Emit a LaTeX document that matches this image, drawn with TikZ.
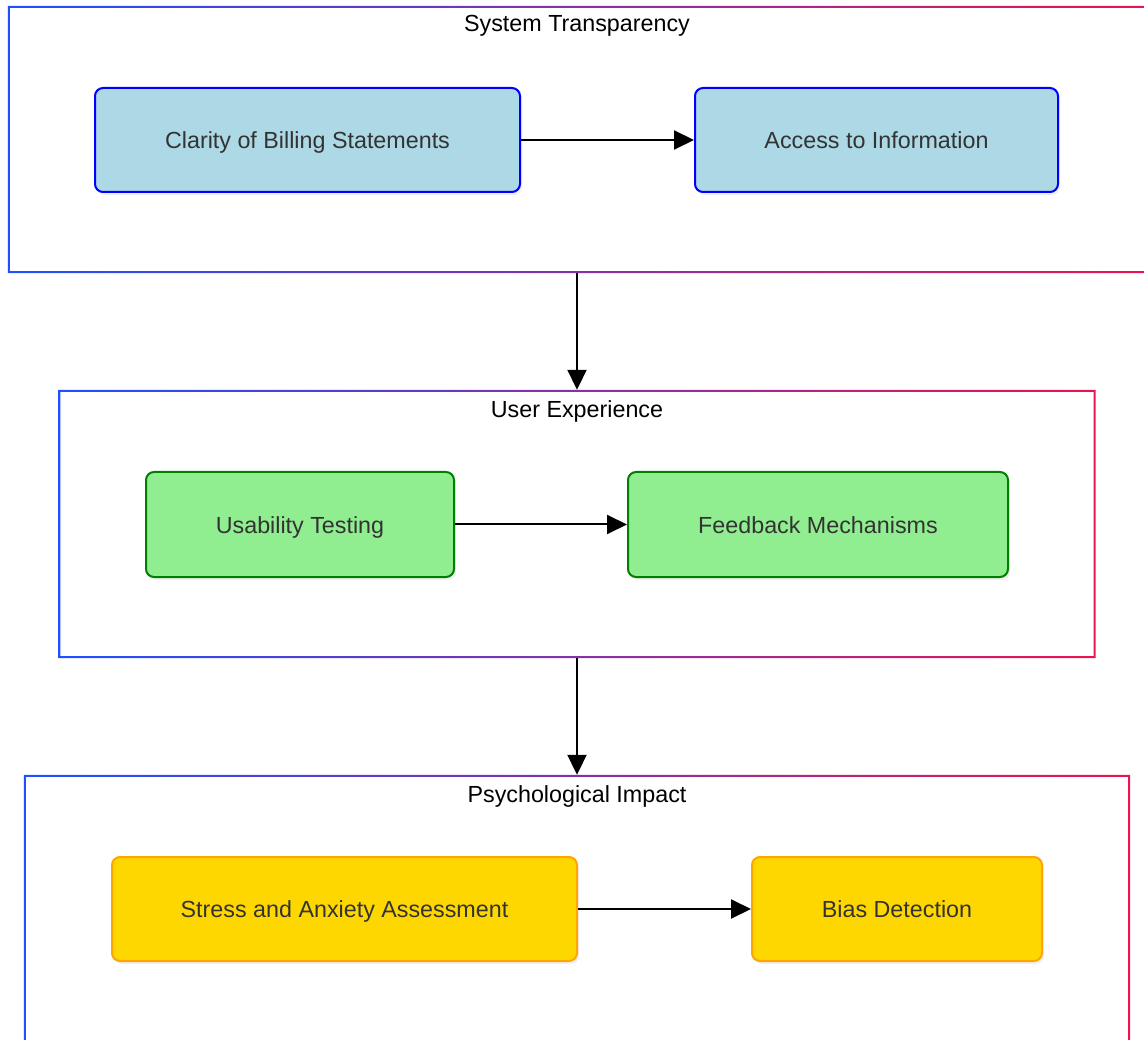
\documentclass[tikz,border=0pt]{standalone}
\usepackage{fontspec}
\setmainfont{Liberation Sans}
\usetikzlibrary{arrows.meta,shadows}
\definecolor{clleft}{RGB}{30,80,255}
\definecolor{clright}{RGB}{235,20,80}
\definecolor{txtgrey}{RGB}{51,51,51}
\definecolor{bluefill}{RGB}{173,216,230}
\definecolor{greenfill}{RGB}{144,238,144}
\definecolor{goldfill}{RGB}{255,215,0}
\definecolor{orangeline}{RGB}{255,165,0}
\begin{document}
\begin{tikzpicture}[x = 1pt, y = -1pt,
		box/.style = {rounded corners = 8pt, line width = 2pt, text = txtgrey,
			font = \fontsize{23.3}{28}\selectfont, text height = 19pt, text depth = 2pt,
			drop shadow = {opacity = .12, shadow xshift = 2pt, shadow yshift = -3pt}},
		bluebox/.style = {box, draw = blue, fill = bluefill},
		greenbox/.style = {box, draw = green!50!black, fill = greenfill},
		goldbox/.style = {box, draw = orangeline, fill = goldfill},
		clbox/.style = {inner sep = 0pt},
		cltitle/.style = {font = \fontsize{23.3}{28}\selectfont, anchor = north},
		arr/.style = {line width = 2pt, -{Triangle[length = 20pt, width = 19pt]}}]
	\useasboundingbox (0,0) rectangle (1144,1040);
	% clusters
	\node[clbox, minimum width = 1138pt, minimum height = 267pt] (sys) at (577,139.5) {};
	\node[clbox, minimum width = 1037pt, minimum height = 268pt] (ux) at (577,524) {};
	\node[clbox, minimum width = 1106pt, minimum height = 280pt] (psy) at (577,915) {};
	\foreach \cl in {sys, ux, psy}
		\shade[left color = clleft, right color = clright, even odd rule]
			(\cl.north west) rectangle (\cl.south east)
			([shift = {(2,2)}]\cl.north west) rectangle ([shift = {(-2,-2)}]\cl.south east);
	\node[cltitle] (systitle) at (577,12) {System Transparency};
	\node[cltitle] (uxtitle) at (577,397) {User Experience};
	\node[cltitle] (psytitle) at (577,782) {Psychological Impact};
	% nodes
	\node[bluebox, minimum width = 425pt, minimum height = 104pt] (clarity) at (307.5,140) {Clarity of Billing Statements};
	\node[bluebox, minimum width = 363pt, minimum height = 104pt] (access) at (876.5,140) {Access to Information};
	\node[greenbox, minimum width = 308pt, minimum height = 105pt] (usab) at (300,524.5) {Usability Testing};
	\node[greenbox, minimum width = 380pt, minimum height = 105pt] (feedb) at (818,524.5) {Feedback Mechanisms};
	\node[goldbox, minimum width = 465pt, minimum height = 104pt] (stress) at (344.5,909) {Stress and Anxiety Assessment};
	\node[goldbox, minimum width = 290pt, minimum height = 104pt] (bias) at (897,909) {Bias Detection};
	% arrows
	\draw[arr] (clarity) -- (access);
	\draw[arr] (usab) -- (feedb);
	\draw[arr] (stress) -- (bias);
	\draw[arr] (sys.south) -- (ux.north);
	\draw[arr] (ux.south) -- (psy.north);
\end{tikzpicture}
\end{document}
